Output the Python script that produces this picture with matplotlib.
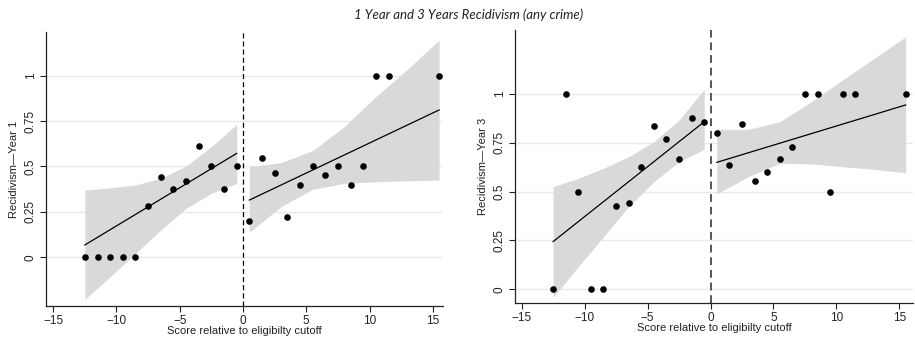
import numpy as np
import matplotlib.pyplot as plt

plt.rcParams['font.family'] = ['Liberation Sans', 'DejaVu Sans']

# bin midpoints (score relative to cutoff)
x_below = [-12.5, -11.5, -10.5, -9.5, -8.5, -7.5, -6.5, -5.5, -4.5, -3.5, -2.5, -1.5, -0.5]
x_above = [0.5, 1.5, 2.5, 3.5, 4.5, 5.5, 6.5, 7.5, 8.5, 9.5, 10.5, 11.5, 15.5]

# x positions where the CI band edges were read
band_x_below = [-12.5, -10.5, -8.5, -6.5, -4.5, -2.5, -0.5]
band_x_above = [0.5, 3, 5.5, 8, 10.5, 13, 15.5]

# Year 1
y1_below = [0, 0, 0, 0, 0, 0.284, 0.442, 0.374, 0.418, 0.614, 0.5, 0.374, 0.5]
y1_above = [0.2, 0.545, 0.462, 0.222, 0.4, 0.5, 0.453, 0.5, 0.4, 0.5, 1, 1, 1]
ci1_below_hi = [0.370, 0.383, 0.398, 0.435, 0.502, 0.609, 0.732]
ci1_below_lo = [-0.231, -0.107, 0.022, 0.150, 0.270, 0.352, 0.407]
ci1_above_hi = [0.499, 0.521, 0.587, 0.719, 0.884, 1.035, 1.196]
ci1_above_lo = [0.138, 0.279, 0.374, 0.407, 0.416, 0.421, 0.425]
fit1_below = [0.068, 0.572]
fit1_above = [0.315, 0.811]

# Year 3
y3_below = [0, 1, 0.5, 0, 0, 0.428, 0.444, 0.625, 0.834, 0.77, 0.666, 0.875, 0.858]
y3_above = [0.8, 0.636, 0.846, 0.555, 0.6, 0.666, 0.729, 1, 1, 0.5, 1, 1, 1]
ci3_below_hi = [0.525, 0.568, 0.620, 0.679, 0.756, 0.867, 1.024]
ci3_below_lo = [-0.041, 0.116, 0.269, 0.423, 0.551, 0.653, 0.717]
ci3_above_hi = [0.819, 0.819, 0.858, 0.961, 1.072, 1.183, 1.293]
ci3_above_lo = [0.488, 0.577, 0.645, 0.642, 0.628, 0.614, 0.597]
fit3_below = [0.244, 0.858]
fit3_above = [0.650, 0.944]

yticks = [0, 0.25, 0.5, 0.75, 1]
ytick_labels = ['0', '0.25', '0.5', '0.75', '1']
xticks = [-15, -10, -5, 0, 5, 10, 15]

fig = plt.figure(figsize=(9.15, 3.39), dpi=100)
ax1 = fig.add_axes([0.0503, 0.0973, 0.4339, 0.8083])
ax2 = fig.add_axes([0.5628, 0.1071, 0.4350, 0.8044])


def draw_panel(ax, yb, ya, lo_b, hi_b, lo_a, hi_a, fit_b, fit_a, ylabel, dash_color, dash_lw):
    ax.fill_between(band_x_below, lo_b, hi_b, color='#d9d9d9', lw=0, zorder=1)
    ax.fill_between(band_x_above, lo_a, hi_a, color='#d9d9d9', lw=0, zorder=1)
    ax.plot([band_x_below[0], band_x_below[-1]], fit_b, color='black', lw=0.9, zorder=3)
    ax.plot([band_x_above[0], band_x_above[-1]], fit_a, color='black', lw=0.9, zorder=3)
    ax.scatter(x_below, yb, s=14, color='black', zorder=4)
    ax.scatter(x_above, ya, s=14, color='black', zorder=4)
    ax.axvline(0, color=dash_color, lw=dash_lw, ls=(0, (4, 2.5)), zorder=2)

    ax.set_yticks(yticks)
    ax.set_yticklabels(ytick_labels, rotation=90, va='center')
    ax.set_xticks(xticks)
    ax.grid(axis='y', color='#eaeaea', lw=1)
    ax.set_axisbelow(True)
    for s in ['top', 'right']:
        ax.spines[s].set_visible(False)
    for s in ['left', 'bottom']:
        ax.spines[s].set_color('#222222')
        ax.spines[s].set_linewidth(0.9)
    ax.tick_params(labelsize=8.5, length=4, width=0.8, pad=2.5, color='#222222', labelcolor='#222222')
    ax.set_xlabel('Score relative to eligibilty cutoff', fontsize=8, labelpad=-0.5, color='#222222')
    ax.set_ylabel(ylabel, fontsize=8, color='#222222')


draw_panel(ax1, y1_below, y1_above, ci1_below_lo, ci1_below_hi, ci1_above_lo, ci1_above_hi,
           fit1_below, fit1_above, 'Recidivism\u2014Year 1', 'black', 0.9)
ax1.set_xlim(-15.57, 15.81)
ax1.set_ylim(-0.268, 1.24)

draw_panel(ax2, y3_below, y3_above, ci3_below_lo, ci3_below_hi, ci3_above_lo, ci3_above_hi,
           fit3_below, fit3_above, 'Recidivism\u2014Year 3', '#555555', 1.4)
ax2.set_xlim(-15.53, 16.08)
ax2.set_ylim(-0.069, 1.328)

fig.text(0.512, 0.958, '1 Year and 3 Years Recidivism (any crime)', ha='center', va='center',
         fontsize=9.5, style='italic', family=['Lato', 'DejaVu Sans'], color='#222222')

fig.savefig('out.png', dpi=100)
